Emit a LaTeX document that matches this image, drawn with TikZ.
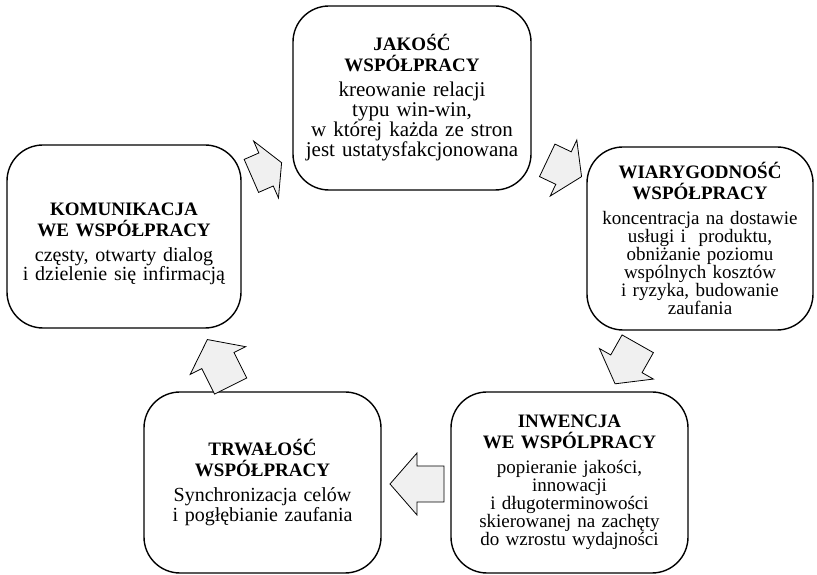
\documentclass[tikz,border=0pt]{standalone}
\usepackage{fontspec}
\setmainfont{Liberation Serif}
\newcommand{\heading}[1]{{\fontsize{19}{21}\bfseries\selectfont #1\par}\vspace{7pt}}

\begin{document}
\begin{tikzpicture}[x=1pt,y=1pt,
    box/.style={draw, line width=1.4pt, rounded corners=36pt, align=center, inner sep=0pt},
    body/.style={font=\fontsize{#1}{18}\selectfont},
    pics/barrow/.style 2 args={code={
        \draw[fill=black!6, line width=0.8pt] (-#1/2,-18) -- (#1/2-#2,-18) -- (#1/2-#2,-31)
            -- (#1/2,0) -- (#1/2-#2,31) -- (#1/2-#2,18) -- (-#1/2,18) -- cycle;}}]
    \useasboundingbox (0,0) rectangle (817,575);
    % the five boxes
    \node [box, body=21, minimum width=238pt, minimum height=184pt, text width=228pt] (jak) at (412,477)
        {\heading{JAKOŚĆ\\WSPÓŁPRACY}kreowanie relacji\\typu win-win,\\w której każda ze stron\\jest ustatysfakcjonowana};
    \node [box, body=19, minimum width=226pt, minimum height=183pt, text width=216pt] (wia) at (700,336.5)
        {\heading{WIARYGODNOŚĆ\\WSPÓŁPRACY}koncentracja na dostawie\\usługi i~ produktu,\\obniżanie poziomu\\wspólnych kosztów\\i ryzyka, budowanie\\zaufania};
    \node [box, body=20, minimum width=234pt, minimum height=183pt, text width=224pt] (kom) at (124,338.5)
        {\heading{\rule{0pt}{27pt}KOMUNIKACJA\\WE WSPÓŁPRACY}częsty, otwarty dialog\\i dzielenie się infirmacją};
    \node [box, body=20, minimum width=237pt, minimum height=181pt, text width=227pt] (trw) at (262.5,92.5)
        {\heading{TRWAŁOŚĆ\\WSPÓŁPRACY}Synchronizacja celów\\i pogłębianie zaufania};
    \node [box, body=19, minimum width=237pt, minimum height=181pt, text width=227pt] (inw) at (569.5,92.5)
        {\heading{INWENCJA\\WE WSPÓLPRACY}popieranie jakości,\\innowacji\\i długoterminowości\\skierowanej na zachęty\\do wzrostu wydajności};
    % block arrows between them
    \pic [rotate=23.6] (kom-jak) at (266.5,405.7) {barrow={33}{17}};
    \pic [rotate=-25.4] (jak-wia) at (564.4,406.5) {barrow={38}{20}};
    \pic [rotate=240.5] (wia-inw) at (626.4,211.2) {barrow={46}{23}};
    \pic [rotate=180] (inw-trw) at (417,91) {barrow={54}{27}};
    \pic [rotate=116.6] (trw-kom) at (219,212.2) {barrow={52}{23.5}};
\end{tikzpicture}
\end{document}
